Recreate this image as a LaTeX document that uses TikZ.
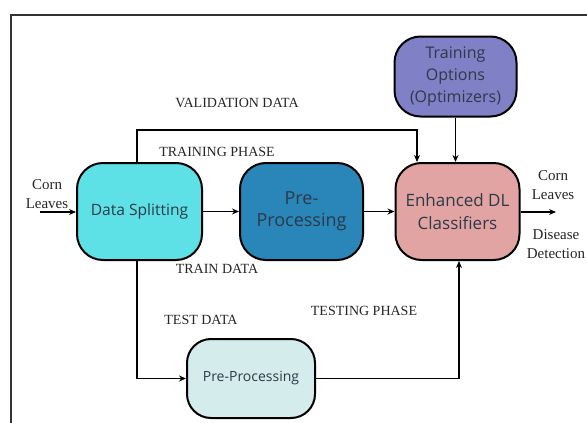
\documentclass[tikz,border=0pt]{standalone}
\usepackage{fontspec}
\setmainfont{Liberation Serif}
\newfontfamily\boxfont{Open Sans}
\usetikzlibrary{arrows.meta}
\definecolor{cyanbox}{HTML}{5DE0E6}
\definecolor{bluebox}{HTML}{2A86B8}
\definecolor{pinkbox}{HTML}{E2A3A3}
\definecolor{purplebox}{HTML}{8080C6}
\definecolor{palebox}{HTML}{D4ECEC}
\definecolor{boxtext}{HTML}{2B3A48}
\tikzset{
  procbox/.style={draw=black, line width=2pt, rounded corners=26pt, align=center,
    font=\boxfont\fontsize{15}{20}\selectfont, text=boxtext, inner sep=0pt},
  arr/.style={-{Stealth[length=7pt,width=6pt]}, line width=1.4pt},
  lbl/.style={font=\fontsize{14}{17}\selectfont, text=black!85},
  sidelbl/.style={font=\fontsize{15}{19}\selectfont, align=center, text=black!85}
}
\begin{document}
\begin{tikzpicture}[x=1pt,y=-1pt]
\useasboundingbox (0,0) rectangle (587,423);
\fill[white] (0,0) rectangle (587,423);
\draw[line width=1.2pt, black!80] (11,423) -- (11,15) -- (587,15);

\node[procbox, fill=purplebox, minimum width=122pt, minimum height=80pt,
  font=\boxfont\fontsize{16}{22}\selectfont] (to) at (455.5,76.5) {Training\\Options\\(Optimizers)};
\node[procbox, fill=cyanbox, minimum width=125pt, minimum height=97pt,
  font=\boxfont\fontsize{15.6}{20}\selectfont] (ds) at (139.5,211.5) {Data Splitting};
\node[procbox, fill=bluebox, minimum width=123pt, minimum height=97pt,
  font=\boxfont\fontsize{18}{22}\selectfont] (pp) at (301.5,211.5) {Pre-\\Processing};
\node[procbox, fill=pinkbox, minimum width=124pt, minimum height=97pt,
  font=\boxfont\fontsize{17}{23}\selectfont] (dl) at (457.5,211.5) {Enhanced DL\\Classifiers};
\node[procbox, fill=palebox, minimum width=128pt, minimum height=79pt, rounded corners=24pt,
  font=\boxfont\fontsize{14}{17}\selectfont] (pp2) at (251,378.5) {Pre-Processing};

\coordinate (in) at (40,212);
\coordinate (out) at (556,212);
\coordinate (v1) at (137,130);
\coordinate (v2) at (417,130);
\coordinate (t1) at (137,378.5);
\coordinate (t2) at (459,378.5);

\draw[arr] (in) -- (ds.west |- in);
\draw[arr] (ds) -- (pp);
\draw[arr] (pp) -- (dl);
\draw[arr] (dl.east |- out) -- (out);
\draw[arr] (ds.north -| v1) -- (v1) -- (v2) -- (v2 |- dl.north);
\draw[arr] (to.south) -- (to.south |- dl.north);
\draw[arr] (ds.south -| t1) -- (t1) -- (pp2.west);
\draw[arr] (pp2.east) -- (t2) -- (t2 |- dl.south);

\node[sidelbl] (cl1) at (47,194) {Corn\\Leaves};
\node[sidelbl] (cl2) at (553,185) {Corn\\Leaves};
\node[sidelbl] (dd) at (556,244) {Disease\\Detection};
\node[lbl] (vd) at (237,103) {VALIDATION DATA};
\node[lbl] (tp) at (217,152) {TRAINING PHASE};
\node[lbl] (td) at (217,269) {TRAIN DATA};
\node[lbl] (ted) at (201,320) {TEST DATA};
\node[lbl] (tsp) at (364,311) {TESTING PHASE};
\end{tikzpicture}
\end{document}
